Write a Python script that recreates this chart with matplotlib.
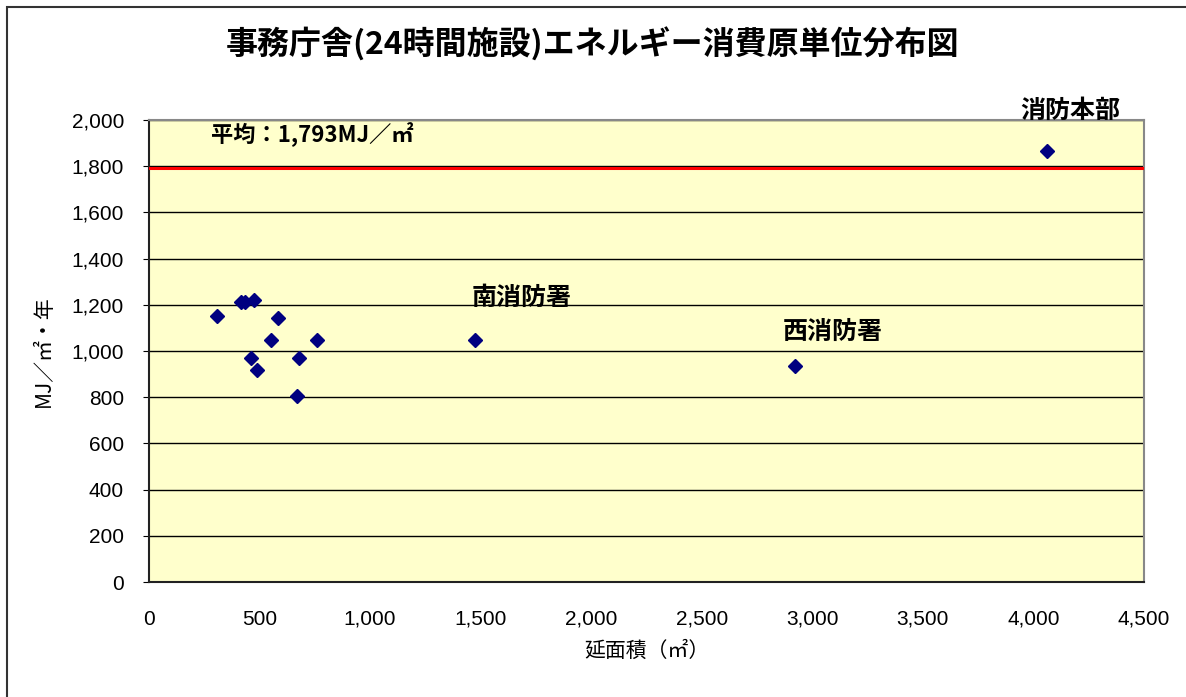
import matplotlib.pyplot as plt
from matplotlib.patches import Rectangle
from matplotlib.ticker import FuncFormatter, MultipleLocator

plt.rcParams['font.family'] = ['Liberation Sans', 'Noto Sans CJK JP', 'DejaVu Sans']
JP = ['Noto Sans CJK JP', 'DejaVu Sans']

# 延面積 (m2) と エネルギー消費原単位 (MJ/m2・年)
area = [306, 414, 433, 476, 585, 550, 760, 460, 678, 487, 668, 1474, 2922, 4061]
energy = [1151, 1211, 1211, 1219, 1141, 1048, 1048, 968, 968, 918, 805, 1048, 935, 1866]

# 名前を付ける施設 (index, name, offset px)
named = [(11, '南消防署', (47, 30)), (12, '西消防署', (38, 22)), (13, '消防本部', (23, 28))]

avg = 1793
title = '事務庁舎(24時間施設)エネルギー消費原単位分布図'

fig = plt.figure(figsize=(11.86, 6.97), dpi=100)
fig.patches.append(Rectangle((7 / 1186, -0.1), 1.2, 1 - 7 / 697 + 0.1,
                             transform=fig.transFigure, fill=False,
                             edgecolor='#333333', lw=1.5))

ax = fig.add_axes([149 / 1186, 1 - 582 / 697, 995 / 1186, 462 / 697])
ax.set_facecolor('#FFFFCC')
ax.set_xlim(0, 4500)
ax.set_ylim(0, 2000)
ax.xaxis.set_major_locator(MultipleLocator(500))
ax.yaxis.set_major_locator(MultipleLocator(200))
fmt = FuncFormatter(lambda v, p: f'{int(v):,}')
ax.xaxis.set_major_formatter(fmt)
ax.yaxis.set_major_formatter(fmt)
ax.tick_params(axis='x', length=0, labelsize=15, pad=20)
ax.tick_params(axis='y', length=4, direction='out', labelsize=15, pad=14)
ax.grid(axis='y', color='black', lw=1)
ax.set_axisbelow(True)
for s in ['left', 'bottom']:
    ax.spines[s].set_color('#222222')
    ax.spines[s].set_linewidth(1.5)
for s in ['top', 'right']:
    ax.spines[s].set_color('#888888')
    ax.spines[s].set_linewidth(1.5)

ax.axhline(avg, color='red', lw=2.2, zorder=3)
ax.text(280, 1935, f'平均：{avg:,}MJ／㎡', fontsize=16, fontweight='bold',
        family=JP, ha='left', va='center')

ax.plot(area, energy, 'D', color='#000080', markersize=7, zorder=4)

for i, name, (dx, dy) in named:
    ax.annotate(name, (area[i], energy[i]), xytext=(dx * 0.72, dy * 0.72),
                textcoords='offset points', ha='center', va='bottom',
                fontsize=18, fontweight='bold', family=JP,
                annotation_clip=False)

ax.set_xlabel('延面積（㎡）', family=JP, fontsize=15, labelpad=8)
ax.set_ylabel('MJ／㎡・年', family=JP, fontsize=15, labelpad=12)

fig.text(0.5, 1 - 45 / 697, title, ha='center', va='center',
         fontsize=23, fontweight='bold', family=JP)

fig.savefig('out.png', dpi=100)
